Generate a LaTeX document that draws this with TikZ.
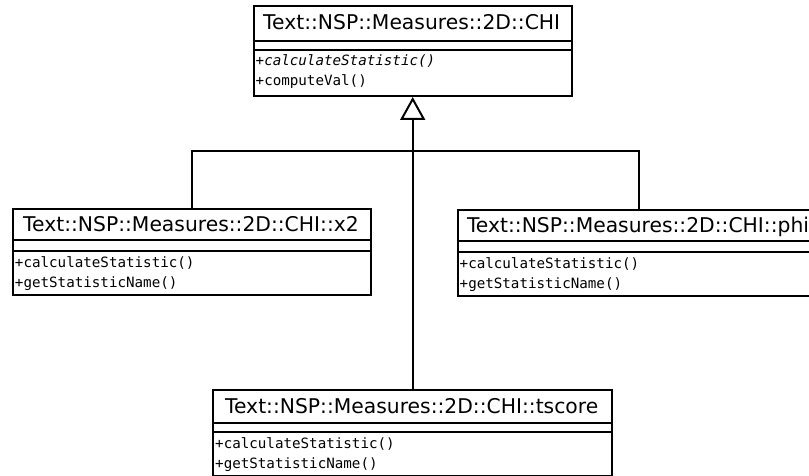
\documentclass[tikz,border=0pt]{standalone}
\usepackage{fontspec}
\newfontfamily\titlefont{DejaVu Sans}
\newfontfamily\methfont{DejaVu Sans Mono}
\usetikzlibrary{arrows.meta}
\begin{document}
\begin{tikzpicture}[x=1pt,y=-1pt,
  classbox/.style={draw, line width=2pt, inner sep=0pt, anchor=north west, fill=white},
  sepline/.style={line width=2pt},
  conn/.style={line width=2pt},
  titletext/.style={anchor=base, inner sep=0pt, font=\titlefont\fontsize{20.3}{22}\selectfont},
  methtext/.style={anchor=base west, inner sep=0pt, font=\methfont\fontsize{14.2}{16}\selectfont},
  inherit/.style={conn, -{Triangle[open, length=23pt, width=25pt, line width=2pt]}}
]
\useasboundingbox[fill=white] (0,0) rectangle (809,476);
\clip (0,0) rectangle (809,476);

% Top class
\node[classbox, minimum width=318pt, minimum height=90pt] (chi) at (252.7,5) {};
\draw[sepline] (252.7,40.7) -- (570.7,40.7);
\draw[sepline] (252.7,50) -- (570.7,50);
\node[titletext] (chit) at (411.7,29.3) {Text::NSP::Measures::2D::CHI};
\node[methtext] (chim1) at (255.5,66) {\itshape +calculateStatistic()};
\node[methtext] (chim2) at (255.5,85.5) {+computeVal()};

% x2 class
\node[classbox, minimum width=358pt, minimum height=86.3pt] (x2) at (12,208) {};
\draw[sepline] (12,240) -- (370,240);
\draw[sepline] (12,250.7) -- (370,250.7);
\node[titletext] (x2t) at (191,231.7) {Text::NSP::Measures::2D::CHI::x2};
\node[methtext] (x2m1) at (14.8,267.3) {+calculateStatistic()};
\node[methtext] (x2m2) at (14.8,287.3) {+getStatisticName()};

% phi class
\node[classbox, minimum width=362.6pt, minimum height=86.7pt] (phi) at (456.7,208.7) {};
\draw[sepline] (456.7,241.3) -- (819.3,241.3);
\draw[sepline] (456.7,251.7) -- (819.3,251.7);
\node[titletext] (phit) at (638,232.5) {Text::NSP::Measures::2D::CHI::phi};
\node[methtext] (phim1) at (459.5,268.2) {+calculateStatistic()};
\node[methtext] (phim2) at (459.5,288.2) {+getStatisticName()};

% tscore class
\node[classbox, minimum width=398.8pt, minimum height=86pt] (ts) at (212.3,389) {};
\draw[sepline] (212.3,422.7) -- (611.1,422.7);
\draw[sepline] (212.3,432.3) -- (611.1,432.3);
\node[titletext] (tst) at (411.7,413.3) {Text::NSP::Measures::2D::CHI::tscore};
\node[methtext] (tsm1) at (215,448.3) {+calculateStatistic()};
\node[methtext] (tsm2) at (215,468.3) {+getStatisticName()};

% connectors
\coordinate (bar) at (411.7,151);
\draw[conn] (x2.north) |- (bar) -| (phi.north);
\draw[inherit] (ts.north) -- (chi.south);
\end{tikzpicture}
\end{document}
